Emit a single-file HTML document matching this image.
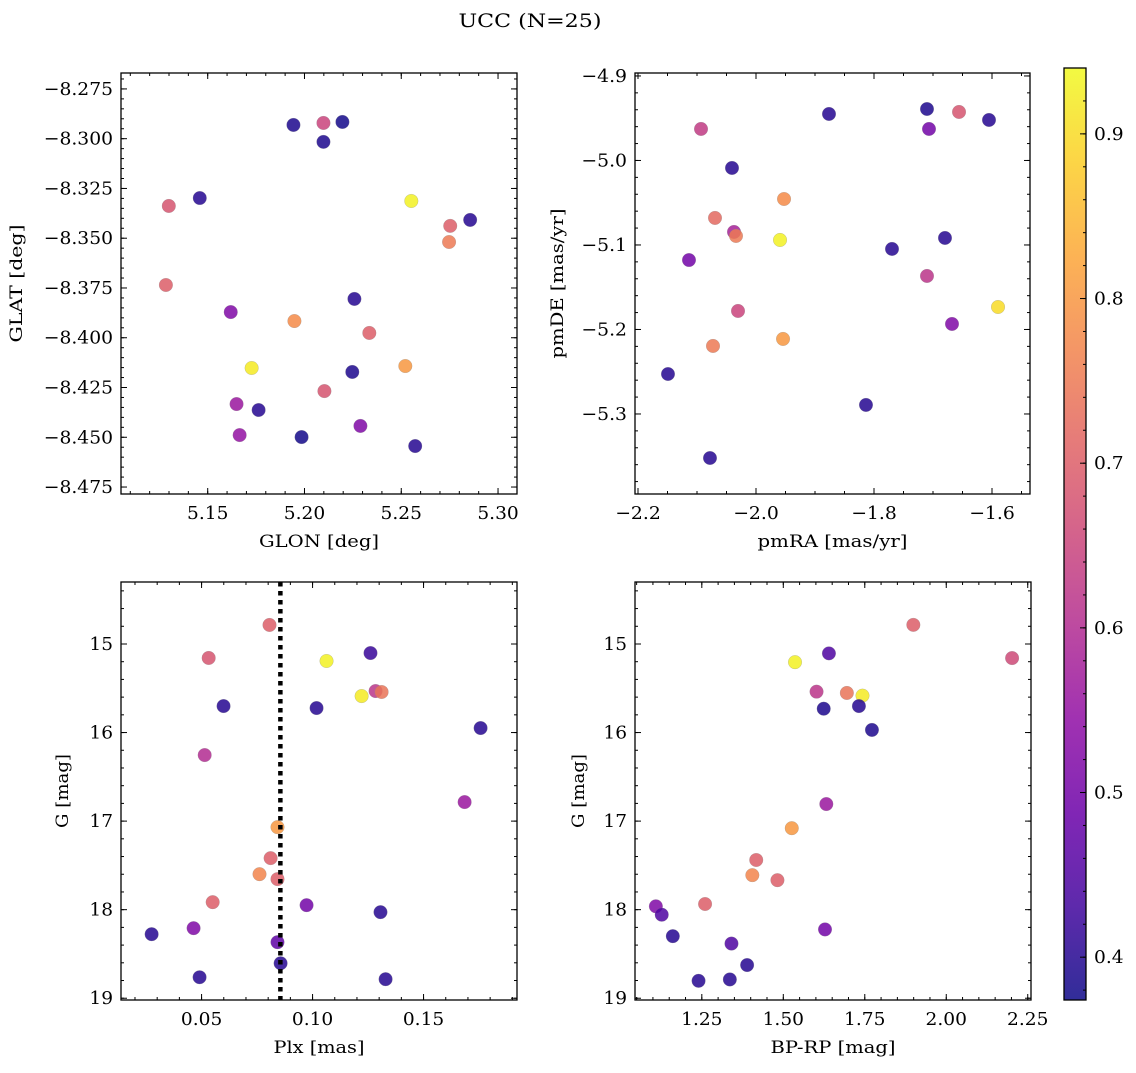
<!DOCTYPE html>
<html><head><meta charset="utf-8"><style>
body{margin:0;background:#fff;}
svg text{font-family:"DejaVu Serif","Liberation Serif",serif;fill:#000;}
</style></head><body>
<svg id="fig" width="1136" height="1068" xmlns="http://www.w3.org/2000/svg">
<text x="530" y="27" font-size="19" text-anchor="middle" textLength="143" lengthAdjust="spacingAndGlyphs">UCC (N=25)</text>
</svg>
<script>
// Panel 1: GLON / GLAT
const glon1 = [5.1943,5.2098,5.2196,5.2098,5.1459,5.1299,5.2552,5.2856,5.2753,5.2747,5.1284,5.1619,5.2258,5.1948,5.2335,5.1727,5.2521,5.2247,5.2103,5.1649,5.1763,5.1665,5.1985,5.2289,5.2572];
const glat1 = [-8.2931,-8.2921,-8.2916,-8.3016,-8.3298,-8.3338,-8.3313,-8.3408,-8.3438,-8.3519,-8.3735,-8.3871,-8.3805,-8.3916,-8.3976,-8.4152,-8.4142,-8.4172,-8.4268,-8.4333,-8.4363,-8.4489,-8.4499,-8.4443,-8.4544];
const prob1 = [0.39,0.65,0.38,0.39,0.40,0.68,0.93,0.40,0.70,0.75,0.70,0.52,0.40,0.78,0.70,0.92,0.80,0.39,0.68,0.56,0.40,0.55,0.38,0.52,0.40];
// Panel 2: pmRA / pmDE
const pmra2 = [-2.0932,-1.8763,-1.7102,-1.6559,-1.6051,-1.7068,-2.0407,-2.0695,-1.9525,-2.0373,-2.0339,-2.1136,-1.9593,-1.7695,-1.6797,-1.7102,-1.5898,-2.0305,-1.6678,-2.0729,-1.9542,-2.1492,-1.8136,-2.0780];
const pmde2 = [-4.9627,-4.9450,-4.9391,-4.9426,-4.9521,-4.9627,-5.0089,-5.0680,-5.0456,-5.0846,-5.0893,-5.1178,-5.0941,-5.1047,-5.0917,-5.1367,-5.1734,-5.1781,-5.1935,-5.2195,-5.2112,-5.2527,-5.2893,-5.3521];
const prob2 = [0.63,0.40,0.39,0.68,0.40,0.50,0.40,0.72,0.78,0.58,0.75,0.50,0.93,0.40,0.40,0.62,0.90,0.65,0.52,0.75,0.80,0.40,0.40,0.40];
// Panel 3: Plx / G
const plx3 = [0.0806,0.0532,0.0599,0.0514,0.0842,0.0811,0.0761,0.0842,0.0550,0.0464,0.0275,0.0842,0.0856,0.0491,0.1063,0.1261,0.1284,0.1311,0.1221,0.1018,0.1757,0.1685,0.0973,0.1306,0.1329];
const g3 = [14.785,15.158,15.701,16.254,17.068,17.418,17.599,17.655,17.915,18.209,18.277,18.367,18.605,18.763,15.192,15.102,15.531,15.542,15.588,15.723,15.949,16.785,17.949,18.028,18.785];
const prob3 = [0.70,0.68,0.40,0.60,0.80,0.70,0.77,0.70,0.70,0.52,0.40,0.47,0.40,0.40,0.93,0.42,0.62,0.74,0.92,0.40,0.40,0.56,0.50,0.40,0.40];
const plxLine = [0.0855];
// Panel 4: BP-RP / G
const bprp4 = [1.899,2.202,1.640,1.536,1.602,1.695,1.743,1.624,1.732,1.772,1.632,1.526,1.417,1.405,1.482,1.260,1.109,1.127,1.161,1.628,1.341,1.389,1.240,1.336];
const g4 = [14.784,15.159,15.106,15.205,15.538,15.553,15.583,15.731,15.701,15.970,16.807,17.080,17.439,17.610,17.667,17.936,17.962,18.057,18.299,18.223,18.383,18.625,18.803,18.788];
const prob4 = [0.70,0.66,0.45,0.93,0.62,0.74,0.92,0.39,0.40,0.39,0.56,0.80,0.70,0.77,0.70,0.70,0.52,0.45,0.40,0.50,0.45,0.40,0.40,0.40];
// Colorbar ticks
const cbTicks = [0.4,0.5,0.6,0.7,0.8,0.9];
const cbMin = 0.374, cbMax = 0.94;

const NS = "http://www.w3.org/2000/svg";
const svg = document.getElementById('fig');
function mk(tag, attrs, parent){const e=document.createElementNS(NS,tag);for(const k in attrs)e.setAttribute(k,attrs[k]);(parent||svg).appendChild(e);return e;}
function tw(s){let w=0;for(const c of s){if(c>='0'&&c<='9')w+=11.8;else if(c=='.')w+=6;else if(c=='\u2212')w+=16;else w+=11;}return w;}
const stops=[[0,[13,8,135]],[0.1,[65,4,157]],[0.2,[106,0,168]],[0.3,[143,13,164]],[0.4,[177,42,144]],[0.5,[204,71,120]],[0.6,[225,100,98]],[0.7,[242,132,75]],[0.8,[252,166,54]],[0.9,[252,206,37]],[1,[240,249,33]]];
function plasma(t){t=Math.max(0,Math.min(1,t));for(let i=1;i<stops.length;i++){if(t<=stops[i][0]){const a=stops[i-1],b=stops[i];const f=(t-a[0])/(b[0]-a[0]);const c=a[1].map((v,j)=>Math.round(v+(b[1][j]-v)*f));return `rgb(${c[0]},${c[1]},${c[2]})`;}}return 'rgb(240,249,33)';}
function cmap(v){return plasma((v-cbMin)/(cbMax-cbMin));}

function panel(cfg){
  const {name,L,R,T,B,xmin,xmax,ymin,ymax,invertY,xMaj,xMin,yMaj,yMin,xFmt,yFmt,xLabel,yLabel,yLabelX,xLabW,yLabW}=cfg;
  const g=mk('g',{});
  
  
  const sx=v=>L+(v-xmin)/(xmax-xmin)*(R-L);
  const sy=v=>invertY? T+(v-ymin)/(ymax-ymin)*(B-T) : B-(v-ymin)/(ymax-ymin)*(B-T);
  const ticks=(a,b,s)=>{const r=[];const st=Math.ceil(a/s-1e-6);for(let i=st;i*s<=b+1e-9;i++)r.push(+(i*s).toFixed(6));return r;};
  const tg=mk('g',{stroke:'#000','stroke-width':1},g);
  ticks(xmin,xmax,xMin).forEach(v=>{const x=sx(v);mk('line',{x1:x,x2:x,y1:B,y2:B-3},tg);mk('line',{x1:x,x2:x,y1:T,y2:T+3},tg);});
  ticks(ymin,ymax,yMin).forEach(v=>{const y=sy(v);mk('line',{x1:L,x2:L+3,y1:y,y2:y},tg);mk('line',{x1:R,x2:R-3,y1:y,y2:y},tg);});
  ticks(xmin,xmax,xMaj).forEach(v=>{const x=sx(v);mk('line',{x1:x,x2:x,y1:B,y2:B-6},tg);mk('line',{x1:x,x2:x,y1:T,y2:T+6},tg);
    const s=xFmt(v);
    const t=mk('text',{x:x,y:B+25,'font-size':18,'text-anchor':'middle',textLength:tw(s),lengthAdjust:'spacingAndGlyphs'},g);t.textContent=s;
    
    });
  ticks(ymin,ymax,yMaj).forEach(v=>{const y=sy(v);mk('line',{x1:L,x2:L+6,y1:y,y2:y},tg);mk('line',{x1:R,x2:R-6,y1:y,y2:y},tg);
    const s=yFmt(v);
    const t=mk('text',{x:L-8-tw(s),y:y+6,'font-size':18,textLength:tw(s),lengthAdjust:'spacingAndGlyphs'},g);t.textContent=s;
    
    });
  const xl=mk('text',{x:(L+R)/2,y:B+53,'font-size':17,'text-anchor':'middle',textLength:xLabW,lengthAdjust:'spacingAndGlyphs'},g);xl.textContent=xLabel;
  
  
  const cy=(T+B)/2;
  const yl=mk('text',{x:yLabelX,y:cy,'font-size':17,'text-anchor':'middle',textLength:yLabW,lengthAdjust:'spacingAndGlyphs',transform:`rotate(-90 ${yLabelX} ${cy})`},g);yl.textContent=yLabel;
  
  
  return {g,sx,sy,L,R,T,B};
}
function frame(p){const r=mk('rect',{x:p.L,y:p.T,width:p.R-p.L,height:p.B-p.T,fill:'none',stroke:'#000','stroke-width':1.3},p.g);
  
  }
function scatter(p,xs,ys,cs){xs.forEach((x,i)=>{const c=mk('circle',{cx:p.sx(x),cy:p.sy(ys[i]),r:6.8,fill:cmap(cs[i]),'fill-opacity':0.85,stroke:'#888','stroke-width':0.4,'stroke-opacity':0.6},p.g);
  
  });}

const f3=v=>(v<0?'\u2212':'')+Math.abs(v).toFixed(3);
const f1=v=>(v<0?'\u2212':'')+Math.abs(v).toFixed(1);
const f2=v=>v.toFixed(2);
const f0=v=>v.toFixed(0);

const p1=panel({name:'glon-glat-panel',L:121,R:517,T:73,B:494,xmin:5.1052,xmax:5.3098,ymin:-8.4785,ymax:-8.267,xMaj:0.05,xMin:0.01,yMaj:0.025,yMin:0.005,xFmt:f2,yFmt:f3,xLabel:'GLON [deg]',yLabel:'GLAT [deg]',yLabelX:22,xLabW:120,yLabW:118});
scatter(p1,glon1,glat1,prob1);frame(p1);
const p2=panel({name:'pm-panel',L:635,R:1030,T:73,B:494,xmin:-2.2051,xmax:-1.5356,ymin:-5.3947,ymax:-4.8965,xMaj:0.2,xMin:0.05,yMaj:0.1,yMin:0.02,xFmt:f1,yFmt:f1,xLabel:'pmRA [mas/yr]',yLabel:'pmDE [mas/yr]',yLabelX:563,xLabW:150,yLabW:150});
scatter(p2,pmra2,pmde2,prob2);frame(p2);
const p3=panel({name:'plx-g-panel',L:121,R:517,T:582,B:1000,xmin:0.0137,xmax:0.1921,ymin:14.30,ymax:19.02,invertY:true,xMaj:0.05,xMin:0.01,yMaj:1,yMin:0.2,xFmt:f2,yFmt:f0,xLabel:'Plx [mas]',yLabel:'G [mag]',yLabelX:68,xLabW:91,yLabW:74});
scatter(p3,plx3,g3,prob3);
plxLine.forEach(v=>{const l=mk('line',{x1:p3.sx(v),x2:p3.sx(v),y1:p3.T,y2:p3.B,stroke:'#000','stroke-width':4.5,'stroke-dasharray':'4.5 4.5'},p3.g);
  
  });
frame(p3);
const p4=panel({name:'cmd-panel',L:635,R:1031,T:582,B:1000,xmin:1.045,xmax:2.26,ymin:14.30,ymax:19.02,invertY:true,xMaj:0.25,xMin:0.05,yMaj:1,yMin:0.2,xFmt:f2,yFmt:f0,xLabel:'BP-RP [mag]',yLabel:'G [mag]',yLabelX:584,xLabW:125,yLabW:74});
scatter(p4,bprp4,g4,prob4);frame(p4);

// Colorbar
const cb=mk('g',{});


const defs=mk('defs',{},cb);
const grad=mk('linearGradient',{id:'cbg',x1:0,y1:1,x2:0,y2:0},defs);
for(let i=0;i<=20;i++){mk('stop',{offset:i/20,'stop-color':plasma(i/20),'stop-opacity':0.85},grad);}
const CT=68,CB=1000,CL=1064,CR=1086;
mk('rect',{x:CL,y:CT,width:CR-CL,height:CB-CT,fill:'url(#cbg)'},cb);
const cy=v=>CB-(v-cbMin)/(cbMax-cbMin)*(CB-CT);
for(let v=0.38;v<=cbMax+1e-9;v+=0.02){mk('line',{x1:CR,x2:CR-3,y1:cy(v),y2:cy(v),stroke:'#000'},cb);}
cbTicks.forEach(v=>{mk('line',{x1:CR,x2:CR-6,y1:cy(v),y2:cy(v),stroke:'#000'},cb);
  const s=v.toFixed(1);
  const t=mk('text',{x:CR+8,y:cy(v)+6,'font-size':18,textLength:tw(s),lengthAdjust:'spacingAndGlyphs'},cb);t.textContent=s;
  
  });
mk('rect',{x:CL,y:CT,width:CR-CL,height:CB-CT,fill:'none',stroke:'#000','stroke-width':1.3},cb);
</script>
</body></html>
